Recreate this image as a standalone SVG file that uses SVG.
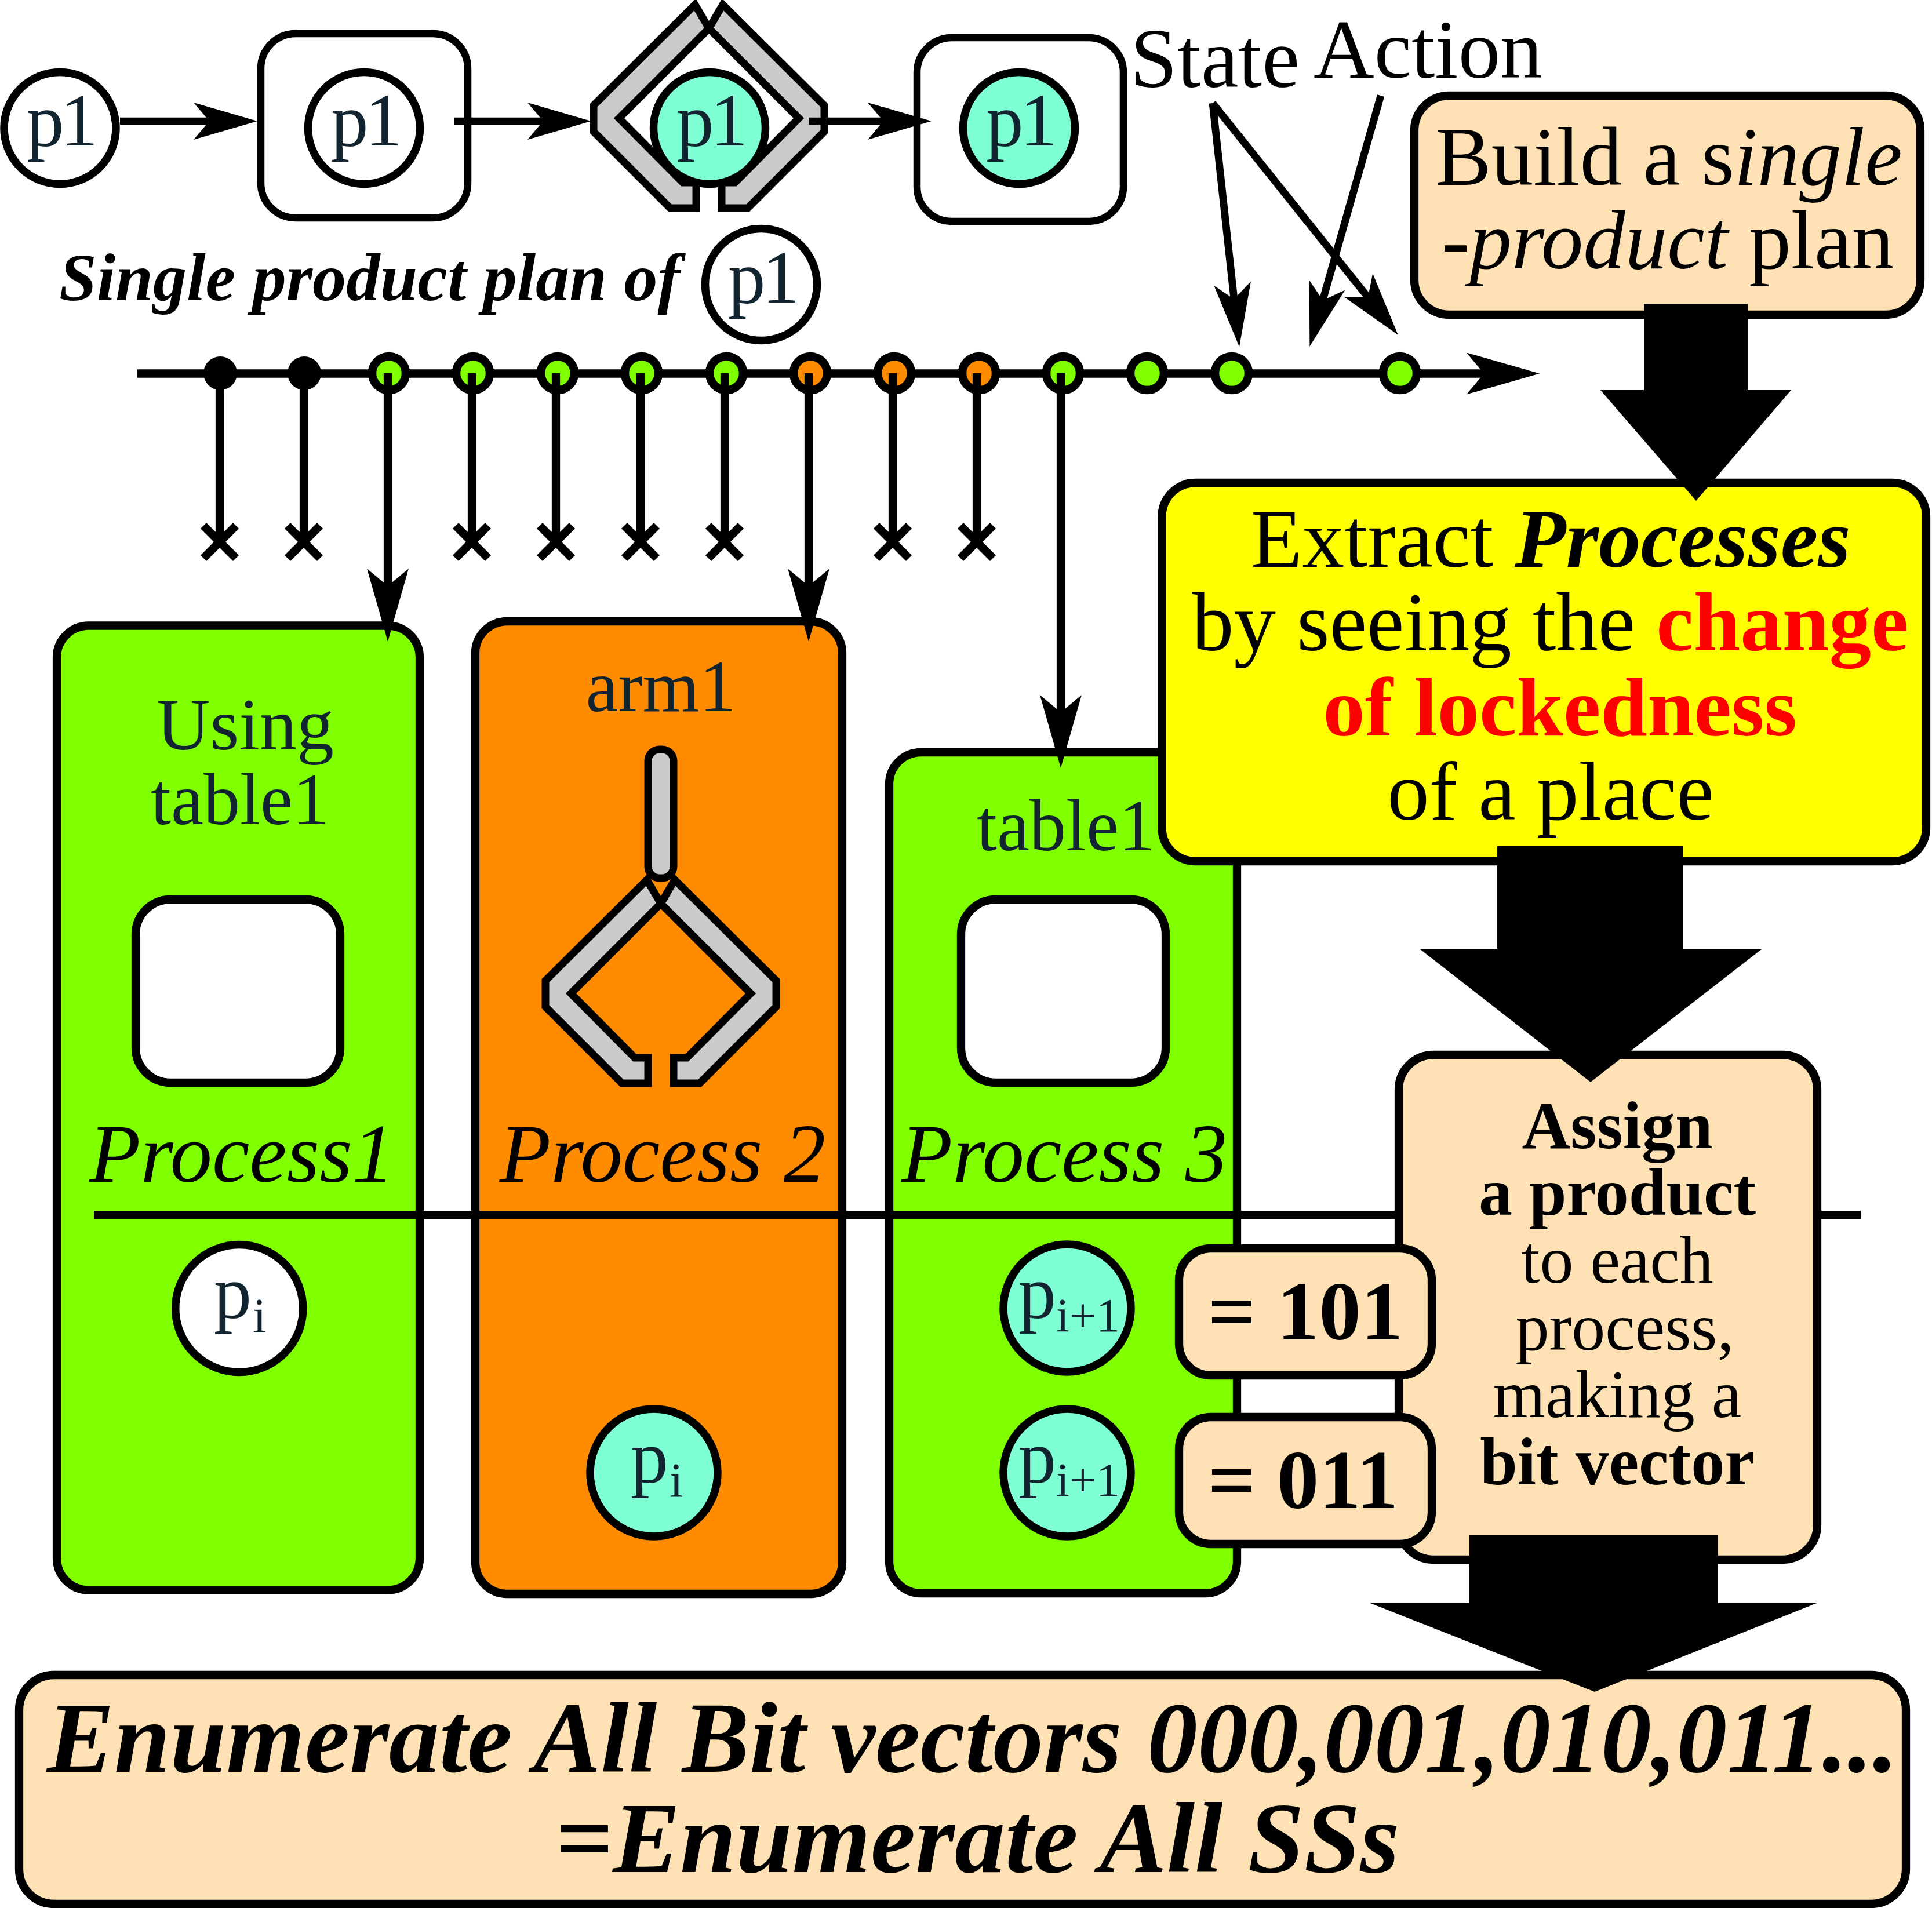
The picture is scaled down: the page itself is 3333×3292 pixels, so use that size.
<svg xmlns="http://www.w3.org/2000/svg" xmlns:xlink="http://www.w3.org/1999/xlink" width="3333" height="3292" viewBox="0 0 3333 3292">
<style>
text{font-family:"Liberation Serif","Times New Roman",serif;fill:#000}
.c{text-anchor:middle}
.d{fill:#12242f}
.f145{font-size:145px}
.p1{font-size:129px;letter-spacing:-6px;fill:#12242f}
.box{stroke:#000;stroke-width:14.3}
.tbox{stroke:#000;stroke-width:12.5}
.cream{fill:#fee1b5}
.white{fill:#fff}
.aqua{fill:#7fffd4}
.green{fill:#80ff00}
.orange{fill:#ff8c00}
.circ{stroke:#000;stroke-width:13.5}
.dot{stroke:#000;stroke-width:14.5}
.grip{fill:#cbcbcd;stroke:#000;stroke-width:13}
.b{font-weight:bold}
.i{font-style:italic}
.wire{stroke:#000;stroke-width:14.3;fill:none}
.thin{stroke-width:12.7}
.a{marker-end:url(#ah)}
.aL{marker-end:url(#ahL)}
</style>
<defs>
<marker id="ah" markerUnits="userSpaceOnUse" markerWidth="110" markerHeight="64" refX="27" refY="32" orient="auto"><path d="M0 0L110 32L0 64L27 32Z" fill="#000"/></marker>
<marker id="ahL" markerUnits="userSpaceOnUse" markerWidth="126" markerHeight="72" refX="30" refY="36" orient="auto"><path d="M0 0L126 36L0 72L30 36Z" fill="#000"/></marker>
<g id="gripper">
<path class="grip" d="M1116 1518L941 1692V1737L1073 1869H1118V1825H1095L985 1714L1140 1559Z"/>
<path class="grip" d="M1164 1518L1339 1692V1737L1207 1869H1162V1825H1185L1295 1714L1140 1559Z"/>
</g>
</defs>

<g id="timeline-line"><path class="wire aL" d="M237 644.5H2560"/></g>

<g id="top-p1"><circle class="circ white" cx="103.5" cy="221" r="96.5"/><text class="p1" x="46" y="251">p1</text></g>
<g id="top-box1"><rect class="tbox white" x="450" y="58" width="357" height="318" rx="60"/><circle class="circ white" cx="628" cy="221" r="96.5"/><text class="p1" x="571" y="251">p1</text></g>
<g id="top-gripper"><use xlink:href="#gripper" href="#gripper" transform="translate(83,-1510)"/><circle class="circ aqua" cx="1224" cy="221" r="96.5"/><text class="p1" x="1167" y="251">p1</text></g>
<g id="top-box2"><rect class="tbox white" x="1582" y="65" width="356" height="317" rx="60"/><circle class="circ aqua" cx="1758" cy="221" r="96.5"/><text class="p1" x="1701" y="251">p1</text></g>
<g id="plan-label"><text class="b i" x="102" y="518" font-size="116.5">Single product plan of</text><circle class="circ white" cx="1313" cy="491" r="96.5"/><text class="p1" x="1256" y="522">p1</text></g>
<g id="label-state"><text x="1950" y="150" font-size="146">State</text></g>
<g id="label-action"><text x="2266" y="134" font-size="145">Action</text></g>

<g id="timeline-dots">
<circle cx="380" cy="644" r="29" fill="#000"/><circle cx="525" cy="644" r="29" fill="#000"/>
<circle class="dot green" cx="671" cy="644" r="29"/><circle class="dot green" cx="816" cy="644" r="29"/><circle class="dot green" cx="962" cy="644" r="29"/><circle class="dot green" cx="1107" cy="644" r="29"/><circle class="dot green" cx="1253" cy="644" r="29"/>
<circle class="dot orange" cx="1398" cy="644" r="29"/><circle class="dot orange" cx="1543" cy="644" r="29"/><circle class="dot orange" cx="1689" cy="644" r="29"/>
<circle class="dot green" cx="1834" cy="644" r="29"/><circle class="dot green" cx="1979" cy="644" r="29"/><circle class="dot green" cx="2125" cy="644" r="29"/><circle class="dot green" cx="2415" cy="644" r="29"/>
</g>

<g id="process1"><rect class="box green" x="98" y="1079.5" width="626" height="1664" rx="55"/><rect class="box white" x="234" y="1552" width="353" height="316" rx="60"/>
<text class="c d" x="423" y="1293" font-size="128">Using</text><text class="c d" x="414" y="1422" font-size="126">table1</text>
<text class="c i f145" x="417" y="2039">Process1</text>
<circle class="circ white" cx="412.7" cy="2257.5" r="110"/><text class="d" x="369" y="2273" font-size="130">p<tspan y="2299" dx="2" font-size="85">i</tspan></text></g>
<g id="process2"><rect class="box orange" x="820" y="1072" width="633" height="1678" rx="55"/>
<text class="c d" x="1140" y="1227" font-size="126">arm1</text>
<rect class="grip" x="1118" y="1293" width="44" height="222" rx="20"/><use xlink:href="#gripper" href="#gripper"/>
<text class="c i f145" x="1143" y="2039">Process 2</text>
<circle class="circ aqua" cx="1128" cy="2541" r="110"/><text class="d" x="1088" y="2557" font-size="130">p<tspan y="2583" dx="2" font-size="85">i</tspan></text></g>
<g id="process3"><rect class="box green" x="1534" y="1298" width="600" height="1451" rx="55"/><rect class="box white" x="1658" y="1552" width="353" height="316" rx="60"/>
<text class="c d" x="1839" y="1467" font-size="126">table1</text>
<text class="c i f145" x="1836" y="2039">Process 3</text>
<circle class="circ aqua" cx="1841" cy="2257" r="110"/><text class="d" x="1757" y="2273" font-size="130">p<tspan y="2297" font-size="82">i+1</tspan></text>
<circle class="circ aqua" cx="1841" cy="2541" r="110"/><text class="d" x="1757" y="2557" font-size="130">p<tspan y="2581" font-size="82">i+1</tspan></text></g>

<g id="divider"><path class="wire" d="M162 2096.5H3210"/></g>

<g id="assign"><rect class="box cream" x="2413" y="1820" width="722" height="871" rx="60"/>
<text class="c b" x="2790" y="1981" font-size="116">Assign</text><text class="c b" x="2790" y="2096" font-size="116">a product</text><text class="c" x="2790" y="2213" font-size="116">to each</text><text class="c" x="2803" y="2329" font-size="116">process,</text><text class="c" x="2790" y="2445" font-size="116">making a</text><text class="c b" x="2790" y="2561" font-size="116">bit vector</text></g>
<g id="v101"><rect class="box cream" x="2034" y="2154" width="436" height="219" rx="55"/><text class="c b f145" x="2252" y="2311">= 101</text></g>
<g id="v011"><rect class="box cream" x="2034" y="2445" width="436" height="219" rx="55"/><text class="c b f145" x="2248" y="2602">= 011</text></g>
<g id="build"><rect class="box cream" x="2440" y="165" width="873" height="378" rx="60"/>
<text class="f145" x="2476" y="319">Build a s<tspan class="i">ingle</tspan></text><text class="f145" x="2487" y="463"><tspan class="i">-product</tspan> plan</text></g>
<g id="extract"><rect class="box" fill="#ff0" x="2004.5" y="833" width="1318.5" height="653" rx="58"/>
<text class="f145" x="2158" y="978">Extract <tspan class="b i">Processes</tspan></text>
<text class="f145" x="2056" y="1122">by seeing the <tspan class="b" style="fill:#f00">change</tspan></text>
<text class="c b f145" style="fill:#f00" x="2691" y="1269">of lockedness</text>
<text class="c f145" x="2675" y="1414">of a place</text></g>
<g id="enumerate"><rect class="box cream" x="33" y="2890" width="3255" height="395" rx="60"/>
<text class="b i" x="81" y="3057" font-size="174">Enumerate All Bit vectors 000,001,010,011...</text>
<text class="b i" x="958" y="3230" font-size="174">=Enumerate All SSs</text></g>

<g id="connectors">
<path class="wire thin a" d="M207 209H361"/><path class="wire thin a" d="M784 209H937"/><path class="wire thin a" d="M1395 209H1524"/>
<g class="wire">
<path d="M379 644V935M524 644V935M814 644V935M959 644V935M1105 644V935M1250 644V935M1540 644V935M1685 644V935"/>
<path d="M351 907L407 963M407 907L351 963M496 907L552 963M552 907L496 963M786 907L842 963M842 907L786 963M931 907L987 963M987 907L931 963M1077 907L1133 963M1133 907L1077 963M1222 907L1278 963M1278 907L1222 963M1512 907L1568 963M1568 907L1512 963M1657 907L1713 963M1713 907L1657 963"/>
</g>
<path class="wire aL" d="M669 644V1011"/><path class="wire aL" d="M1395 644V1011"/><path class="wire aL" d="M1830 644V1229"/>
<path class="wire thin a" d="M2092 178L2129 516"/><path class="wire thin a" d="M2092 178L2360 513"/><path class="wire thin a" d="M2382 165L2282 518"/>
<polygon points="2836,524 3015,524 3015,673 3090,673 2926,864 2761,673 2836,673"/>
<polygon points="2583,1460 2904,1460 2904,1637 3040,1637 2744,1867 2449,1637 2583,1637"/>
<polygon points="2535,2648 2964,2648 2964,2766 3134,2766 2751,2919 2364,2766 2535,2766"/>
</g>
</svg>
